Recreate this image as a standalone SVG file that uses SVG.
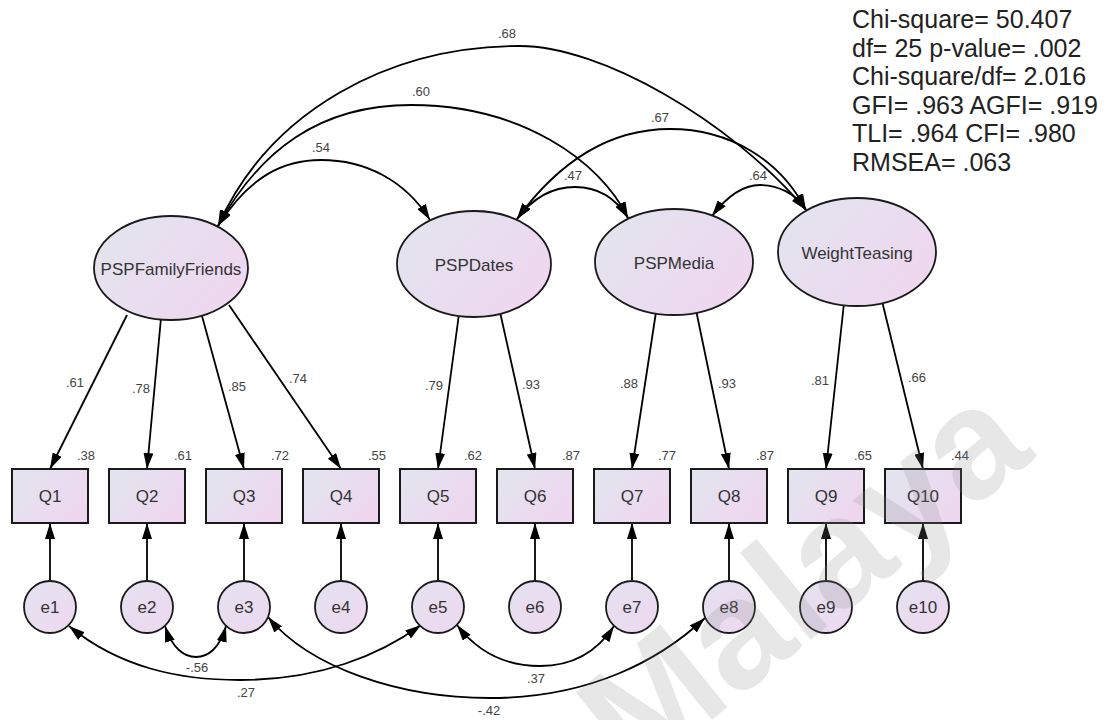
<svg xmlns="http://www.w3.org/2000/svg" width="1110" height="720" viewBox="0 0 1110 720">
<style>
.lat{fill:url(#gl);stroke:#1a1a1a;stroke-width:1.8}
.obs{fill:url(#gl);stroke:#1a1a1a;stroke-width:2}
.err{fill:url(#ge);stroke:#1a1a1a;stroke-width:1.8}
text{font-family:"Liberation Sans",Arial,sans-serif}
.lbl{fill:#333;text-anchor:middle;dominant-baseline:central;font-size:17px}
.num{fill:#444;text-anchor:middle;dominant-baseline:central;font-size:13px}
.edge{fill:none;stroke:#000;stroke-width:1.8}
.one{marker-end:url(#ah)}
.two{marker-start:url(#ah);marker-end:url(#ah)}
.stats{fill:#222;font-size:25px}
.wm{fill:#8a8a8a;opacity:0.2;font-size:155px;font-weight:bold}
</style>
<defs>
<linearGradient id="gl" x1="0" y1="0.2" x2="1" y2="0.8">
<stop offset="0" stop-color="#e2e4ee"/>
<stop offset="1" stop-color="#f0d6f0"/>
</linearGradient>
<linearGradient id="ge" x1="0" y1="0" x2="1" y2="1">
<stop offset="0" stop-color="#e4e2f0"/>
<stop offset="1" stop-color="#eed8f0"/>
</linearGradient>
<marker id="ah" viewBox="0 0 16 10" refX="16" refY="5" markerWidth="16" markerHeight="10" markerUnits="userSpaceOnUse" orient="auto-start-reverse">
<path d="M0,0 L16,5 L0,10 z" fill="#000"/>
</marker>
</defs>
<rect width="1110" height="720" fill="#fff"/>

<g id="connectors">
<!-- covariances between latents -->
<path class="edge two" d="M218,226 C270,110 390,46 520,46 C600,46 730,120 806,210"/>
<path class="edge two" d="M218,226 C260,150 320,105 411,105 C520,105 600,160 628,218"/>
<path class="edge two" d="M218,226 C250,175 285,160 321,160 C365,160 405,180 430,220"/>
<path class="edge two" d="M517,219 C560,160 610,129 670,129 C730,129 780,160 806,210"/>
<path class="edge two" d="M517,219 C535,195 555,187 575,187 C597,187 615,197 628,218"/>
<path class="edge two" d="M712,216 C728,195 745,185 760,185 C778,185 795,193 806,210"/>
<!-- loadings -->
<line class="edge one" x1="127" y1="315" x2="50" y2="469"/>
<line class="edge one" x1="161" y1="318" x2="147" y2="469"/>
<line class="edge one" x1="202" y1="316" x2="244" y2="469"/>
<line class="edge one" x1="229" y1="305" x2="341" y2="469"/>
<line class="edge one" x1="459" y1="314" x2="438" y2="469"/>
<line class="edge one" x1="500" y1="312" x2="535" y2="469"/>
<line class="edge one" x1="656" y1="312" x2="632" y2="469"/>
<line class="edge one" x1="696" y1="310" x2="729" y2="469"/>
<line class="edge one" x1="844" y1="303" x2="826" y2="469"/>
<line class="edge one" x1="882" y1="301" x2="923" y2="469"/>
<!-- error paths -->
<line class="edge one" x1="50" y1="585" x2="50" y2="523"/>
<line class="edge one" x1="147" y1="585" x2="147" y2="523"/>
<line class="edge one" x1="244" y1="585" x2="244" y2="523"/>
<line class="edge one" x1="341" y1="585" x2="341" y2="523"/>
<line class="edge one" x1="438" y1="585" x2="438" y2="523"/>
<line class="edge one" x1="535" y1="585" x2="535" y2="523"/>
<line class="edge one" x1="632" y1="585" x2="632" y2="523"/>
<line class="edge one" x1="729" y1="585" x2="729" y2="523"/>
<line class="edge one" x1="826" y1="585" x2="826" y2="523"/>
<line class="edge one" x1="923" y1="585" x2="923" y2="523"/>
<!-- error covariances -->
<path class="edge two" d="M69,626 C120,668 180,680 240,680 C320,680 380,655 421,625"/>
<path class="edge two" d="M165,626 C172,648 184,657 196,657 C208,657 220,648 226,626"/>
<path class="edge two" d="M268,617 C310,668 400,698 490,698 C590,698 660,660 705,618"/>
<path class="edge two" d="M457,625 C480,655 510,666 540,666 C570,666 595,655 614,626"/>
<!-- labels -->
<text class="num" x="507" y="33">.68</text>
<text class="num" x="421" y="91">.60</text>
<text class="num" x="321" y="147">.54</text>
<text class="num" x="660" y="117">.67</text>
<text class="num" x="573" y="175">.47</text>
<text class="num" x="758" y="175">.64</text>
<text class="num" x="75" y="382">.61</text>
<text class="num" x="141" y="388">.78</text>
<text class="num" x="237" y="386">.85</text>
<text class="num" x="298" y="378">.74</text>
<text class="num" x="434" y="385">.79</text>
<text class="num" x="531" y="384">.93</text>
<text class="num" x="629" y="383">.88</text>
<text class="num" x="727" y="383">.93</text>
<text class="num" x="820" y="380">.81</text>
<text class="num" x="917" y="377">.66</text>
<text class="num" x="197" y="667">-.56</text>
<text class="num" x="246" y="692">.27</text>
<text class="num" x="536" y="678">.37</text>
<text class="num" x="489" y="710">-.42</text>
</g>

<g id="PSPFamilyFriends"><ellipse class="lat" cx="171" cy="268" rx="77" ry="52"/><text class="lbl" x="171" y="269">PSPFamilyFriends</text></g>
<g id="PSPDates"><ellipse class="lat" cx="474" cy="264" rx="77" ry="53"/><text class="lbl" x="474" y="265">PSPDates</text></g>
<g id="PSPMedia"><ellipse class="lat" cx="674" cy="262" rx="79" ry="53"/><text class="lbl" x="674" y="263">PSPMedia</text></g>
<g id="WeightTeasing"><ellipse class="lat" cx="857" cy="252" rx="79" ry="54"/><text class="lbl" x="857" y="253">WeightTeasing</text></g>

<g id="Q1"><rect class="obs" x="12" y="469" width="76" height="54"/><text class="lbl" x="50" y="496">Q1</text><text class="num" x="86" y="455">.38</text></g>
<g id="Q2"><rect class="obs" x="109" y="469" width="76" height="54"/><text class="lbl" x="147" y="496">Q2</text><text class="num" x="183" y="455">.61</text></g>
<g id="Q3"><rect class="obs" x="206" y="469" width="76" height="54"/><text class="lbl" x="244" y="496">Q3</text><text class="num" x="280" y="455">.72</text></g>
<g id="Q4"><rect class="obs" x="303" y="469" width="76" height="54"/><text class="lbl" x="341" y="496">Q4</text><text class="num" x="377" y="455">.55</text></g>
<g id="Q5"><rect class="obs" x="400" y="469" width="76" height="54"/><text class="lbl" x="438" y="496">Q5</text><text class="num" x="473" y="455">.62</text></g>
<g id="Q6"><rect class="obs" x="497" y="469" width="76" height="54"/><text class="lbl" x="535" y="496">Q6</text><text class="num" x="571" y="455">.87</text></g>
<g id="Q7"><rect class="obs" x="594" y="469" width="76" height="54"/><text class="lbl" x="632" y="496">Q7</text><text class="num" x="667" y="455">.77</text></g>
<g id="Q8"><rect class="obs" x="691" y="469" width="76" height="54"/><text class="lbl" x="729" y="496">Q8</text><text class="num" x="765" y="455">.87</text></g>
<g id="Q9"><rect class="obs" x="788" y="469" width="76" height="54"/><text class="lbl" x="826" y="496">Q9</text><text class="num" x="863" y="455">.65</text></g>
<g id="Q10"><rect class="obs" x="885" y="469" width="76" height="54"/><text class="lbl" x="923" y="496">Q10</text><text class="num" x="960" y="455">.44</text></g>

<g id="e1"><circle class="err" cx="50" cy="607" r="26"/><text class="lbl" x="50" y="607">e1</text></g>
<g id="e2"><circle class="err" cx="147" cy="607" r="26"/><text class="lbl" x="147" y="607">e2</text></g>
<g id="e3"><circle class="err" cx="244" cy="607" r="26"/><text class="lbl" x="244" y="607">e3</text></g>
<g id="e4"><circle class="err" cx="341" cy="607" r="26"/><text class="lbl" x="341" y="607">e4</text></g>
<g id="e5"><circle class="err" cx="438" cy="607" r="26"/><text class="lbl" x="438" y="607">e5</text></g>
<g id="e6"><circle class="err" cx="535" cy="607" r="26"/><text class="lbl" x="535" y="607">e6</text></g>
<g id="e7"><circle class="err" cx="632" cy="607" r="26"/><text class="lbl" x="632" y="607">e7</text></g>
<g id="e8"><circle class="err" cx="729" cy="607" r="26"/><text class="lbl" x="729" y="607">e8</text></g>
<g id="e9"><circle class="err" cx="826" cy="607" r="26"/><text class="lbl" x="826" y="607">e9</text></g>
<g id="e10"><circle class="err" cx="923" cy="607" r="26"/><text class="lbl" x="923" y="607">e10</text></g>

<g id="fit-stats" class="stats">
<text x="852" y="28">Chi-square= 50.407</text>
<text x="852" y="57">df= 25 p-value= .002</text>
<text x="852" y="85">Chi-square/df= 2.016</text>
<text x="852" y="114">GFI= .963 AGFI= .919</text>
<text x="852" y="142">TLI= .964 CFI= .980</text>
<text x="852" y="171">RMSEA= .063</text>
</g>

<g id="watermark"><text class="wm" transform="translate(635,782) rotate(-39)">Malaya</text></g>
</svg>
